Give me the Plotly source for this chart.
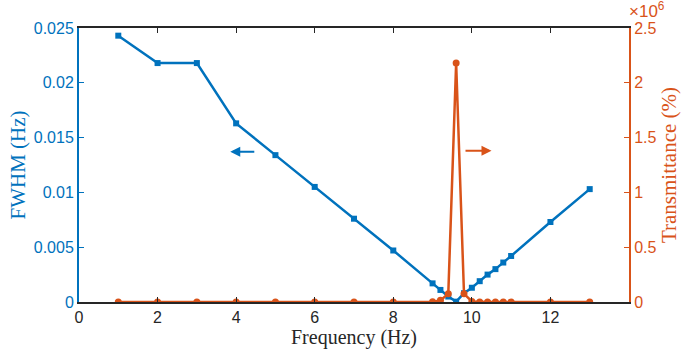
import plotly.graph_objects as go

freq_fwhm = [1, 2, 3, 4, 5, 6, 7, 8, 9, 9.2, 9.4, 9.6, 9.8, 10, 10.2, 10.4, 10.6, 10.8, 11, 12, 13]
fwhm = [0.0243, 0.0218, 0.0218, 0.0163, 0.0134, 0.0105, 0.0076, 0.0047, 0.0017, 0.0011, 0.0005, 0.00003,
        0.0008, 0.0013, 0.0019, 0.0025, 0.0030, 0.0036, 0.0042, 0.0073, 0.0103]

freq_trans = [1, 2, 3, 4, 5, 6, 7, 8, 9, 9.2, 9.4, 9.6, 9.8, 10, 10.2, 10.4, 10.6, 10.8, 11, 12, 13]
trans = [0, 0, 0, 0, 0, 0, 0, 0, 2000, 15000, 75000, 2180000, 75000, 5000, 0, 0, 0, 0, 0, 0, 0]

x_ticks = [0, 2, 4, 6, 8, 10, 12]
y1_ticks = [0, 0.005, 0.01, 0.015, 0.02, 0.025]
y1_labels = ["0", "0.005", "0.01", "0.015", "0.02", "0.025"]
y2_ticks = [0, 0.5e6, 1e6, 1.5e6, 2e6, 2.5e6]
y2_labels = ["0", "0.5", "1", "1.5", "2", "2.5"]

BLUE = "#0072BD"
ORANGE = "#D95319"
SANS = "Liberation Sans, Arial, sans-serif"
SERIF = "Liberation Serif, Times New Roman, serif"

fig = go.Figure()
fig.add_trace(go.Scatter(x=freq_fwhm, y=fwhm, mode="lines+markers",
                         line=dict(color=BLUE, width=2.5),
                         marker=dict(symbol="square", size=6, color=BLUE),
                         yaxis="y", showlegend=False))
fig.add_trace(go.Scatter(x=freq_trans, y=trans, mode="lines+markers",
                         line=dict(color=ORANGE, width=2.5),
                         marker=dict(symbol="circle", size=7, color=ORANGE),
                         yaxis="y2", showlegend=False))

fig.update_layout(
    width=685, height=352,
    margin=dict(l=79, r=56, t=28, b=50),
    paper_bgcolor="white", plot_bgcolor="white",
    xaxis=dict(range=[0, 14], tickvals=x_ticks, ticks="inside", ticklen=5,
               tickcolor="#262626", showline=True, linecolor="#262626", linewidth=1.5,
               mirror="ticks", showgrid=False, zeroline=False, automargin=False,
               tickfont=dict(family=SANS, size=16, color="#262626"),
               title=dict(text="Frequency (Hz)", font=dict(family=SERIF, size=20, color="#262626"),
                          standoff=3)),
    yaxis=dict(range=[0, 0.025], tickvals=y1_ticks, ticktext=y1_labels, ticks="inside",
               ticklen=5, tickcolor=BLUE, showline=True, linecolor=BLUE, linewidth=2,
               showgrid=False, zeroline=False, automargin=False,
               tickfont=dict(family=SANS, size=16, color=BLUE),
               title=dict(text="FWHM (Hz)", font=dict(family=SERIF, size=21, color=BLUE),
                          standoff=2)),
    yaxis2=dict(range=[0, 2.5e6], tickvals=y2_ticks, ticktext=y2_labels, ticks="inside",
                ticklen=5, tickcolor=ORANGE, showline=True, linecolor=ORANGE, linewidth=2,
                overlaying="y", side="right", showgrid=False, zeroline=False, automargin=False,
                tickfont=dict(family=SANS, size=16, color=ORANGE),
                title=dict(text="Transmittance (%)", font=dict(family=SERIF, size=21, color=ORANGE),
                           standoff=4)),
)

# left-pointing arrow (FWHM axis)
fig.add_annotation(x=3.85, y=0.0137, ax=4.5, ay=0.0137, xref="x", yref="y", axref="x", ayref="y",
                   showarrow=True, arrowhead=2, arrowsize=1, arrowwidth=2, arrowcolor=BLUE, text="")
# right-pointing arrow (Transmittance axis)
fig.add_annotation(x=10.5, y=1.38e6, ax=9.8, ay=1.38e6, xref="x", yref="y2", axref="x", ayref="y2",
                   showarrow=True, arrowhead=2, arrowsize=1, arrowwidth=2, arrowcolor=ORANGE, text="")
# exponent label
fig.add_annotation(x=1, y=1, xref="paper", yref="paper", xanchor="left", yanchor="bottom",
                   xshift=-1, yshift=6, showarrow=False, borderpad=0,
                   text="×10<sup>6</sup>", font=dict(family=SANS, size=17, color=ORANGE))

fig.write_html("out.html")
